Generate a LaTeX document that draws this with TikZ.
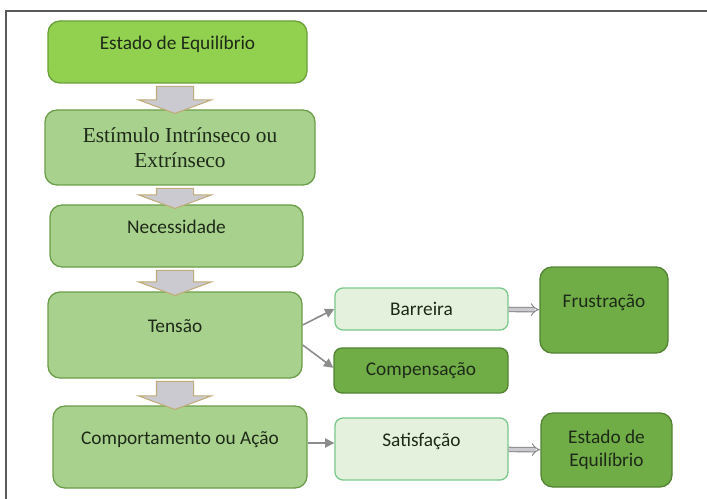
\documentclass[tikz,border=0pt]{standalone}
\usepackage{fontspec}
\setmainfont{Carlito}
\newfontfamily\timesfont{Liberation Serif}
\usetikzlibrary{shapes.arrows,arrows.meta}
\definecolor{boxtext}{RGB}{30,42,24}
\definecolor{brightfill}{RGB}{146,208,80}
\definecolor{brightline}{RGB}{106,158,56}
\definecolor{lightfill}{RGB}{169,209,142}
\definecolor{lightline}{RGB}{108,158,74}
\definecolor{palefill}{RGB}{228,241,220}
\definecolor{paleline}{RGB}{122,200,140}
\definecolor{midfill}{RGB}{112,173,71}
\definecolor{midline}{RGB}{82,130,50}
\definecolor{downfill}{RGB}{202,202,208}
\definecolor{downline}{RGB}{192,172,120}
\definecolor{arrowgray}{RGB}{140,140,140}

\begin{document}
\begin{tikzpicture}[x=0.75pt, y=-0.75pt,
    box/.style={draw, rounded corners=9pt, line width=1pt, inner sep=0pt, align=center,
      text=boxtext, font=\fontsize{14.5}{17.5}\selectfont},
    bright/.style={box, fill=brightfill, draw=brightline},
    light/.style={box, fill=lightfill, draw=lightline},
    pale/.style={box, rounded corners=6pt, fill=palefill, draw=paleline},
    mid/.style={box, fill=midfill, draw=midline},
    raised/.style={text height=8pt, text depth=12pt},
    bigdown/.style={single arrow, rotate=-90, fill=downfill, draw=downline, line width=0.8pt,
      inner xsep=0pt, inner ysep=13.5pt, minimum width=54pt, single arrow head extend=13.5pt,
      single arrow tip angle=139},
    thin/.style={draw=arrowgray, line width=1.2pt, -{Triangle[length=7pt, width=7pt]}},
    hollow/.style={draw=arrowgray, double=downfill, double distance=2.5pt, line width=0.8pt,
      -{Implies}}]
    \useasboundingbox (0,0) rectangle (707,499);
    \draw[line width=1.1pt, black!65] (707,11) -- (6,11) -- (6,499);
    \node[bright, raised, minimum width=194.25pt, minimum height=46.5pt] (b1) at (177.5,52) {Estado de Equilíbrio};
    \node[light, minimum width=202.5pt, minimum height=56.25pt, font=\timesfont\fontsize{16}{19}\selectfont] (b2) at (180,147.5) {Estímulo Intrínseco ou\\Extrínseco};
    \node[light, raised, minimum width=189.75pt, minimum height=46.5pt] (b3) at (176.5,236) {Necessidade};
    \node[light, raised, minimum width=190.5pt, minimum height=64.5pt] (b4) at (175,335) {Tensão};
    \node[light, raised, minimum width=190.5pt, minimum height=61.5pt] (b5) at (180,447) {Comportamento ou Ação};
    \node[pale, minimum width=129.75pt, minimum height=31.5pt] (barr) at (421.5,309) {Barreira};
    \node[mid, rounded corners=6pt, minimum width=130.5pt, minimum height=33.75pt] (comp) at (421,370.5) {Compensação};
    \node[mid, raised, minimum width=96pt, minimum height=64.5pt] (frus) at (604,310) {Frustração};
    \node[pale, raised, minimum width=129.75pt, minimum height=46.5pt] (sat) at (421.5,449) {Satisfação};
    \node[mid, minimum width=98.25pt, minimum height=55.5pt] (eq) at (606.5,450) {Estado de\\Equilíbrio};
    \node[bigdown, minimum height=20.25pt] (d1) at (175,96.5) {};
    \node[bigdown, minimum height=15pt] (d2) at (175,195) {};
    \node[bigdown, minimum height=18.75pt] (d3) at (175,279.5) {};
    \node[bigdown, minimum height=21pt] (d4) at (175,392) {};
    \draw[thin] ([yshift=7.5pt]b4.east) -- (barr.west);
    \draw[thin] ([yshift=-7.5pt]b4.east) -- ([yshift=2pt]comp.west);
    \draw[thin] ([yshift=3pt]b5.east) -- ([yshift=3pt]b5.east -| sat.west);
    \draw[hollow] (barr) -- (frus);
    \draw[hollow] (sat) -- (eq);
\end{tikzpicture}
\end{document}
